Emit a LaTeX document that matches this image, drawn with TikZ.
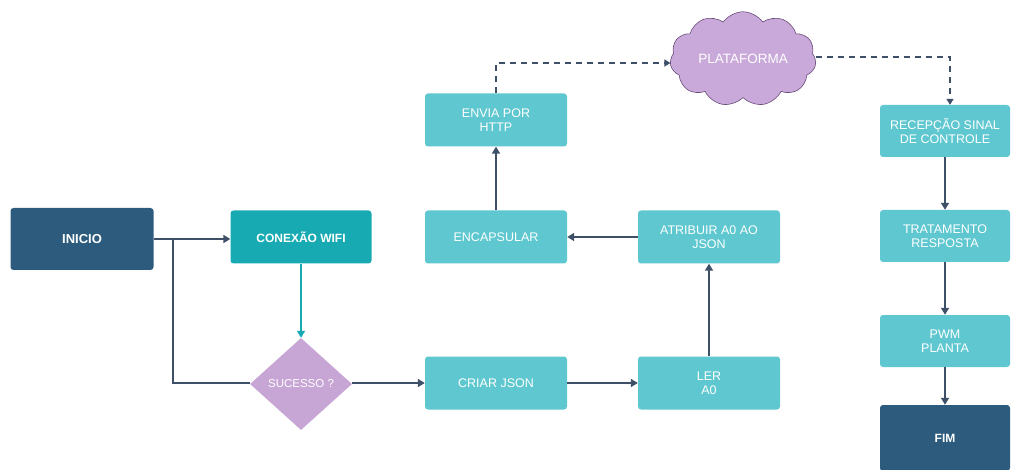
\documentclass[tikz,border=0pt]{standalone}
\usepackage{fontspec}
\setmainfont{Liberation Sans}
\usetikzlibrary{shapes.geometric,shapes.symbols,arrows.meta}
\definecolor{darkbox}{HTML}{2C5B7D}
\definecolor{tealbox}{HTML}{17AAB3}
\definecolor{lightbox}{HTML}{5EC7CF}
\definecolor{arrowc}{HTML}{3D5068}
\definecolor{diam}{HTML}{C7A5D5}
\definecolor{cloudc}{HTML}{C9A9D9}
\definecolor{cloudb}{HTML}{6A4C7A}
\tikzset{
  x=1pt,y=-1pt,
  base/.style={rounded corners=3pt,text=white,align=center,font=\fontsize{12.5}{14}\selectfont,inner sep=0pt},
  darkstep/.style={base,fill=darkbox,minimum width=143pt,minimum height=62pt,font=\fontsize{13}{14}\selectfont\bfseries},
  tealstep/.style={base,fill=tealbox,minimum width=141pt,minimum height=53pt,font=\fontsize{12}{14}\selectfont\bfseries},
  lightstep/.style={base,fill=lightbox,minimum width=142pt,minimum height=53pt},
  rightstep/.style={base,fill=lightbox,minimum width=130pt,minimum height=52pt},
  conn/.style={draw=arrowc,line width=1.6pt,-{Triangle[length=7pt,width=8pt]}},
  plain/.style={draw=arrowc,line width=1.6pt},
  dconn/.style={draw=arrowc,line width=1.6pt,dashed,dash pattern=on 6pt off 5pt,-{Triangle[length=6pt,width=7pt]}},
}
\begin{document}
\begin{tikzpicture}
\useasboundingbox (0,0) rectangle (1014,470);
% nodes
\node[darkstep] (inicio) at (82,239) {INICIO};
\node[tealstep] (wifi) at (301,237) {CONEXÃO WIFI};
\node[diamond,fill=diam,minimum width=102pt,minimum height=92pt,inner sep=0pt,text=white,font=\fontsize{11.5}{13}\selectfont] (suc) at (301,384) {SUCESSO ?};
\node[lightstep] (criar) at (496,383) {CRIAR JSON};
\node[lightstep] (ler) at (709,383) {LER\\A0};
\node[lightstep] (atrib) at (709,237) {ATRIBUIR A0 AO\\JSON};
\node[lightstep] (encap) at (496,237) {ENCAPSULAR};
\node[lightstep] (envia) at (496,120) {ENVIA POR\\HTTP};
\node[cloud,cloud puffs=11,cloud puff arc=110,aspect=1.6,fill=cloudc,draw=cloudb,line width=0.6pt,minimum width=146pt,minimum height=94pt,inner sep=0pt,text=white,font=\fontsize{13.5}{15}\selectfont] (plat) at (743,59) {PLATAFORMA};
\node[rightstep] (recep) at (945,131) {RECEPÇÃO SINAL\\DE CONTROLE};
\node[rightstep] (trat) at (945,236) {TRATAMENTO\\RESPOSTA};
\node[rightstep] (pwm) at (945,341) {PWM\\PLANTA};
\node[base,fill=darkbox,minimum width=130pt,minimum height=66pt,font=\fontsize{12}{14}\selectfont\bfseries] (fim) at (945,438) {FIM};
% coordinates
\coordinate (j1) at (173,239);
\coordinate (j2) at (173,383);
\coordinate (d1) at (496,63);
\coordinate (d2) at (950,57);
% connectors
\draw[conn] (inicio.east) -- (wifi.west |- inicio.east);
\draw[plain] (j1) -- (j2) -- (suc.west |- j2);
\draw[conn] (suc.east |- j2) -- (criar.west);
\draw[conn,draw=tealbox] (wifi.south) -- (suc.north);
\draw[conn] (criar.east) -- (ler.west);
\draw[conn] (ler.north) -- (atrib.south);
\draw[conn] (atrib.west) -- (encap.east);
\draw[conn] (encap.north) -- (envia.south);
\draw[dconn] (envia.north) -- (d1) -- (plat.west |- d1);
\draw[dconn] (plat.east |- d2) -- (d2) -- (recep.north -| d2);
\draw[conn] (recep.south) -- (trat.north);
\draw[conn] (trat.south) -- (pwm.north);
\draw[conn] (pwm.south) -- (fim.north);
\end{tikzpicture}
\end{document}
